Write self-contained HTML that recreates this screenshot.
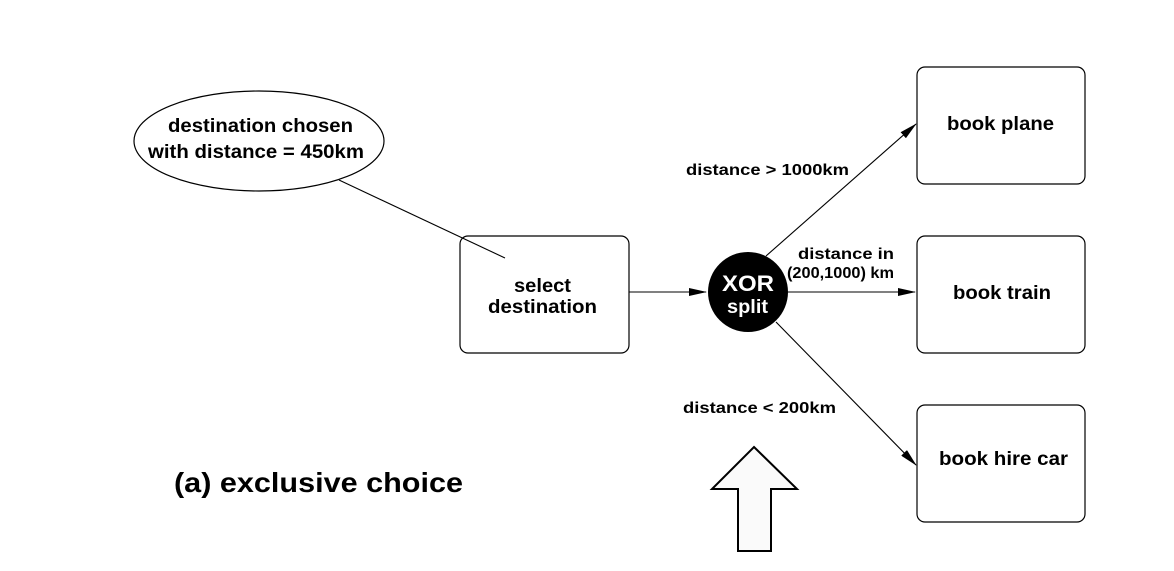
<!DOCTYPE html>
<html><head><style>body{margin:0;background:#fff}</style></head><body>
<svg width="1174" height="566" xmlns="http://www.w3.org/2000/svg" font-family="'Liberation Sans',sans-serif" font-weight="bold">
<defs><marker id="a" markerWidth="18" markerHeight="8" refX="17" refY="4" orient="auto" markerUnits="userSpaceOnUse"><path d="M0,0 L18,4 L0,8 z" fill="#000"/></marker></defs>
<g fill="#fff" stroke="#000" stroke-width="1.2">
<ellipse cx="259" cy="141" rx="125" ry="50"/>
<rect x="460" y="236" width="169" height="117" rx="8"/>
<rect x="917" y="67" width="168" height="117" rx="8"/>
<rect x="917" y="236" width="168" height="117" rx="8"/>
<rect x="917" y="405" width="168" height="117" rx="8"/>
<path d="M754,447 L797,489 L771,489 L771,551 L738,551 L738,489 L712,489 Z" fill="#fafafa" stroke-width="2"/>
</g>
<g stroke="#000" stroke-width="1.1" fill="none">
<line x1="339" y1="180" x2="505" y2="258"/>
<line x1="629" y1="292" x2="706" y2="292" marker-end="url(#a)"/>
<line x1="788" y1="292" x2="915" y2="292" marker-end="url(#a)"/>
<line x1="766" y1="256" x2="916" y2="124" marker-end="url(#a)"/>
<line x1="776" y1="322" x2="916" y2="465" marker-end="url(#a)"/>
</g>
<circle cx="748" cy="292" r="40" fill="#000"/>
<g font-size="19" lengthAdjust="spacingAndGlyphs">
<text x="168" y="132" textLength="185" lengthAdjust="spacingAndGlyphs">destination chosen</text>
<text x="148" y="158" textLength="216" lengthAdjust="spacingAndGlyphs">with distance = 450km</text>
<text x="514" y="292" textLength="57" lengthAdjust="spacingAndGlyphs">select</text>
<text x="488" y="313" textLength="109" lengthAdjust="spacingAndGlyphs">destination</text>
<text x="947" y="130" textLength="107" lengthAdjust="spacingAndGlyphs">book plane</text>
<text x="953" y="299" textLength="98" lengthAdjust="spacingAndGlyphs">book train</text>
<text x="939" y="465" textLength="129" lengthAdjust="spacingAndGlyphs">book hire car</text>
<text x="722" y="291" fill="#fff" font-size="22" textLength="52" lengthAdjust="spacingAndGlyphs">XOR</text>
<text x="727" y="313" fill="#fff" textLength="41" lengthAdjust="spacingAndGlyphs">split</text>
</g>
<g font-size="16">
<text x="686" y="175" textLength="163" lengthAdjust="spacingAndGlyphs">distance &gt; 1000km</text>
<text x="798" y="259" textLength="96" lengthAdjust="spacingAndGlyphs">distance in</text>
<text x="787" y="278" textLength="107" lengthAdjust="spacingAndGlyphs">(200,1000) km</text>
<text x="683" y="413" textLength="153" lengthAdjust="spacingAndGlyphs">distance &lt; 200km</text>
</g>
<text x="174" y="492" font-size="28" textLength="289" lengthAdjust="spacingAndGlyphs">(a) exclusive choice</text>
</svg>
</body></html>
